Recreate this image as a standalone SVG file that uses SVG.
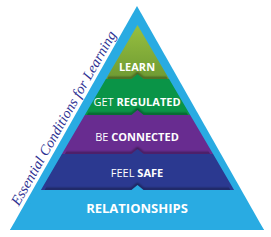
<svg xmlns="http://www.w3.org/2000/svg" width="271" height="237" viewBox="0 0 271 237">
<style>
.lbl{font-family:"Open Sans","Noto Sans",sans-serif;fill:#ffffff;text-anchor:middle}
.b{font-weight:700}
.r{font-weight:400}
.shadow{fill:none;stroke:#000;stroke-opacity:0.45;stroke-width:2;filter:url(#blur)}
</style>
<defs>
<linearGradient id="gLearn" x1="0" y1="0" x2="0" y2="1">
<stop offset="0" stop-color="#98C03F"/>
<stop offset="1" stop-color="#6E9A33"/>
</linearGradient>
<filter id="blur" x="-10%" y="-200%" width="120%" height="500%"><feGaussianBlur stdDeviation="1"/></filter>
<clipPath id="inner"><polygon points="137.5,25 236,200 39,200"/></clipPath>
</defs>
<rect width="271" height="237" fill="#ffffff"/>
<g id="frame">
<polygon points="137,6 264,230 10,230" fill="#29ABE2"/>
</g>
<g id="learn">
<polygon points="137.5,25 169.1,79 105.9,79" fill="url(#gLearn)"/>
<text class="lbl b" x="137" y="71" font-size="11">LEARN</text>
</g>
<g clip-path="url(#inner)">
<polyline class="shadow" points="105.9,78 131.5,78 137.5,73 143.5,78 169.1,78"/>
</g>
<g id="get-regulated">
<polygon points="105.9,79 131.5,79 137.5,74 143.5,79 169.1,79 190.2,115 84.8,115" fill="#0A9447"/>
<text class="lbl" x="137" y="106" font-size="11"><tspan class="r">GET </tspan><tspan class="b">REGULATED</tspan></text>
</g>
<g clip-path="url(#inner)">
<polyline class="shadow" points="84.8,114 131.5,114 137.5,109 143.5,114 190.2,114"/>
</g>
<g id="be-connected">
<polygon points="84.8,115 131.5,115 137.5,110 143.5,115 190.2,115 213.1,154 61.9,154" fill="#682C90"/>
<text class="lbl" x="137" y="141" font-size="11"><tspan class="r">BE </tspan><tspan class="b">CONNECTED</tspan></text>
</g>
<g clip-path="url(#inner)">
<polyline class="shadow" points="61.9,153 131.5,153 137.5,148 143.5,153 213.1,153"/>
</g>
<g id="feel-safe">
<polygon points="61.9,154 131.5,154 137.5,149 143.5,154 213.1,154 234.1,190 40.9,190" fill="#2B3990"/>
<text class="lbl" x="137" y="177" font-size="11"><tspan class="r">FEEL </tspan><tspan class="b">SAFE</tspan></text>
</g>
<g clip-path="url(#inner)">
<polyline class="shadow" points="40.9,189 131.5,189 137.5,184 143.5,189 234.1,189"/>
</g>
<g id="relationships">
<polygon points="40.9,190 131.5,190 137.5,185 143.5,190 234.1,190 264,230 10,230" fill="#29ABE2"/>
<text class="lbl b" x="137" y="213" font-size="13">RELATIONSHIPS</text>
</g>
<g id="title">
<text x="0" y="0" transform="translate(18.8,206.5) rotate(-60.4)" font-family="'Liberation Serif',serif" font-style="italic" font-size="14.5" fill="#2E3192">Essential Conditions for Learning</text>
</g>
<g id="connectors"/>
</svg>
